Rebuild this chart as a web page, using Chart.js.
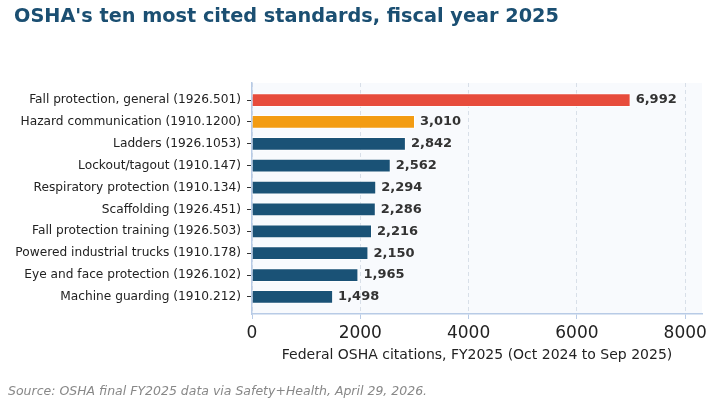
<!DOCTYPE html>
<html>
<head>
<meta charset="utf-8">
<script src="https://cdn.jsdelivr.net/npm/chart.js@4/dist/chart.umd.min.js"></script>
<style>
  html, body { margin: 0; padding: 0; background: #fff; }
  #wrap { position: relative; width: 722px; height: 400px; font-family: "DejaVu Sans", sans-serif; }
  #title { position: absolute; left: 14px; top: 4px; font-size: 19.3px; font-weight: bold; color: #1b4f72; white-space: nowrap; }
  #source { position: absolute; left: 8px; top: 383px; font-size: 12.5px; font-style: italic; color: #888; white-space: nowrap; }
  canvas { position: absolute; left: 0; top: 0; }
</style>
</head>
<body>
<div id="wrap">
  <canvas id="chart" width="722" height="400"></canvas>
  <div id="title">OSHA's ten most cited standards, fiscal year 2025</div>
  <div id="source">Source: OSHA final FY2025 data via Safety+Health, April 29, 2026.</div>
</div>
<script>
"use strict"

// standards, top to bottom
let standards = [
    "Fall protection, general (1926.501)",
    "Hazard communication (1910.1200)",
    "Ladders (1926.1053)",
    "Lockout/tagout (1910.147)",
    "Respiratory protection (1910.134)",
    "Scaffolding (1926.451)",
    "Fall protection training (1926.503)",
    "Powered industrial trucks (1910.178)",
    "Eye and face protection (1926.102)",
    "Machine guarding (1910.212)"
];

// citations in FY2025
let citations = [6992, 3010, 2842, 2562, 2294, 2286, 2216, 2150, 1965, 1498];

let barColors = ["#e74c3c", "#f39c12", "#1a5276", "#1a5276", "#1a5276",
                 "#1a5276", "#1a5276", "#1a5276", "#1a5276", "#1a5276"];

let xTicks = [0, 2000, 4000, 6000, 8000];

Chart.defaults.font.family = "DejaVu Sans";
Chart.defaults.color = "#222";

// light panel behind the bars
const panelBg = {
    id: "panelBg",
    beforeDraw(chart) {
        const a = chart.chartArea;
        const ctx = chart.ctx;
        ctx.save();
        ctx.fillStyle = "#f8fafd";
        ctx.fillRect(a.left, a.top, a.right - a.left, a.bottom - a.top);
        ctx.restore();
    }
};

// numbers at the end of each bar
const valueLabels = {
    id: "valueLabels",
    afterDatasetsDraw(chart) {
        const ctx = chart.ctx;
        const meta = chart.getDatasetMeta(0);
        ctx.save();
        ctx.font = "bold 13px 'DejaVu Sans'";
        ctx.fillStyle = "#333";
        ctx.textAlign = "left";
        ctx.textBaseline = "middle";
        meta.data.forEach((bar, i) => {
            ctx.fillText(citations[i].toLocaleString("en-US"), bar.x + 5, bar.y);
        });
        ctx.restore();
    }
};

const ctx = document.getElementById("chart").getContext("2d");
const myChart = new Chart(ctx, {
    type: "bar",
    data: {
        datasets: [{
            data: citations.map((v, i) => ({ x: v, y: i })),
            backgroundColor: barColors,
            borderColor: "rgba(255,255,255,0.8)",
            borderWidth: 1,
            barPercentage: 0.63,
            categoryPercentage: 1
        }]
    },
    options: {
        indexAxis: "y",
        responsive: false,
        animation: false,
        layout: { padding: { top: 83, right: 20, bottom: 0, left: 0 } },
        plugins: {
            legend: { display: false },
            tooltip: { enabled: false }
        },
        scales: {
            x: {
                type: "linear",
                min: 0,
                max: 8310,
                afterBuildTicks: (scale) => { scale.ticks = xTicks.map(v => ({ value: v })); },
                afterFit: (scale) => { scale.height = 86; },
                ticks: { font: { size: 17 }, color: "#222", padding: 4, maxRotation: 0, callback: (value) => String(value) },
                grid: { color: "rgba(190,200,215,0.55)", tickColor: "#b8cbe6", tickLength: 5 },
                border: { color: "#b8cbe6", width: 1.5, dash: [4, 3] },
                title: {
                    display: true,
                    text: "Federal OSHA citations, FY2025 (Oct 2024 to Sep 2025)",
                    font: { size: 14 },
                    color: "#222",
                    padding: { top: 36, bottom: 36 }
                }
            },
            y: {
                type: "linear",
                reverse: true,
                offset: false,
                min: -0.78,
                max: 9.78,
                afterBuildTicks: (scale) => { scale.ticks = standards.map((s, i) => ({ value: i })); },
                afterFit: (scale) => { scale.width = 252; },
                ticks: {
                    autoSkip: false,
                    font: { size: 12.2 },
                    color: "#222",
                    padding: 6,
                    callback: (value) => standards[value]
                },
                grid: { offset: false, drawOnChartArea: false, tickColor: "#333", tickLength: 5 },
                border: { color: "#b8cbe6", width: 1.5 }
            }
        }
    },
    plugins: [panelBg, valueLabels]
});
</script>
</body>
</html>
